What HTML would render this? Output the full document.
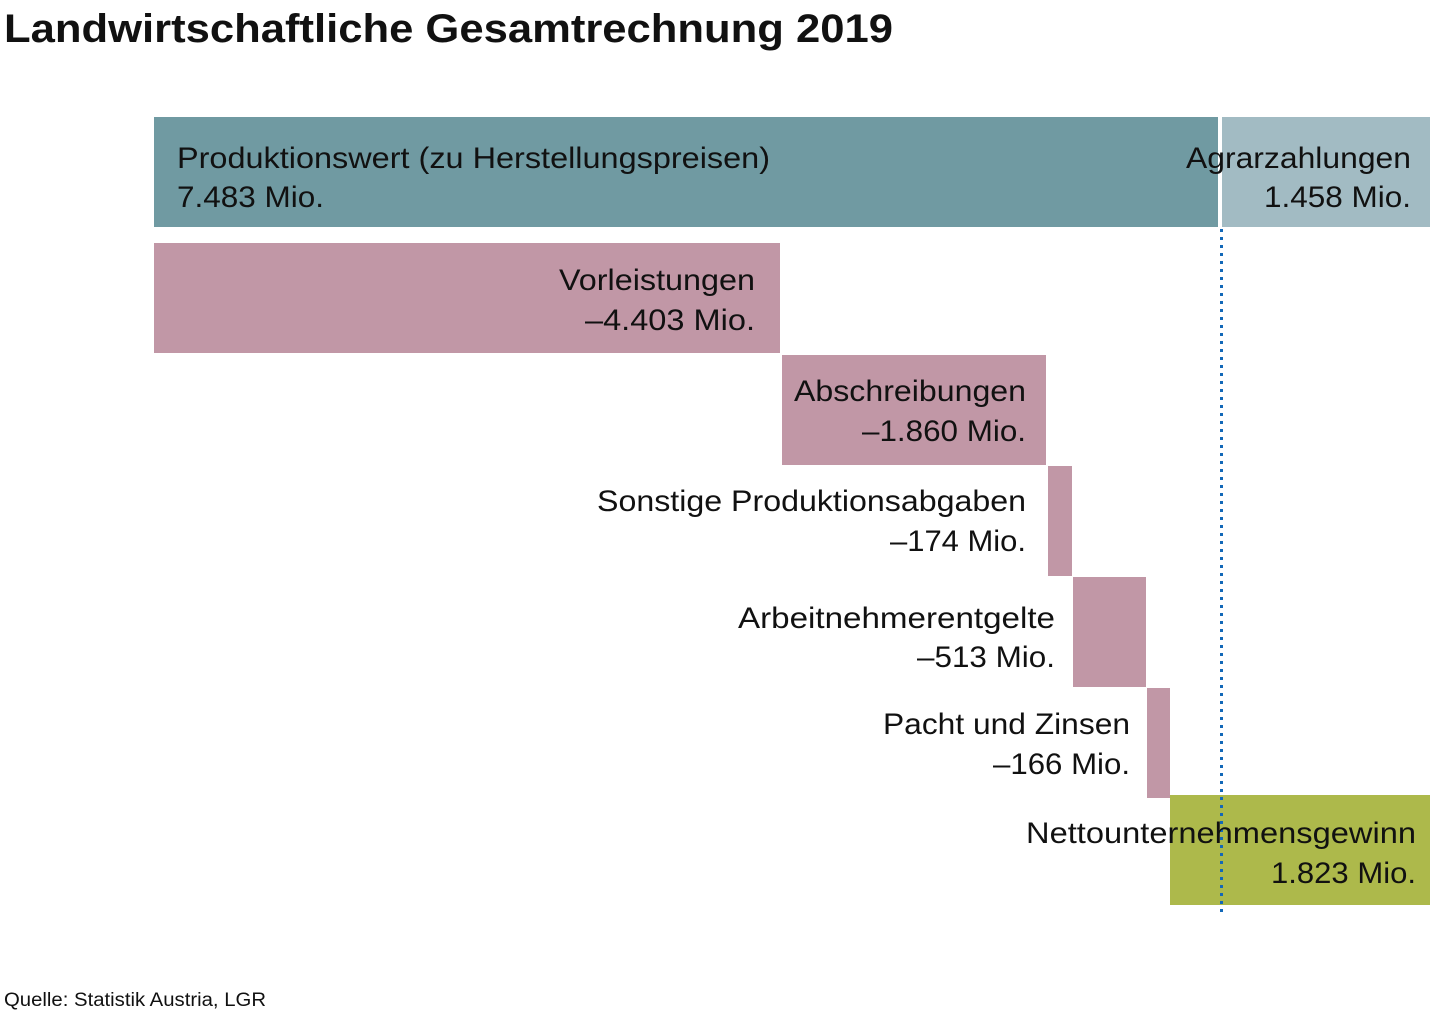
<!DOCTYPE html>
<html><head><meta charset="utf-8"><style>
html,body{margin:0;padding:0;background:#fff;width:1433px;height:1013px;overflow:hidden}
svg{display:block}
text{font-family:"Liberation Sans",sans-serif;fill:#111}
</style></head><body>
<svg width="1433" height="1013" viewBox="0 0 1433 1013" xmlns="http://www.w3.org/2000/svg">
<text x="4" y="42" font-size="40" font-weight="bold" textLength="889" lengthAdjust="spacingAndGlyphs">Landwirtschaftliche Gesamtrechnung 2019</text>

<rect x="154" y="117" width="1064" height="110" fill="#709aa2"/>
<rect x="1222" y="117" width="208" height="110" fill="#a2bbc3"/>
<rect x="154" y="243" width="626" height="110" fill="#c197a6"/>
<rect x="782" y="355" width="264" height="110" fill="#c197a6"/>
<rect x="1048" y="466" width="24" height="110" fill="#c197a6"/>
<rect x="1073" y="577" width="73" height="110" fill="#c197a6"/>
<rect x="1147" y="688" width="23" height="110" fill="#c197a6"/>
<rect x="1170" y="795" width="260" height="110" fill="#adb94b"/>

<line x1="1221.5" y1="229" x2="1221.5" y2="915" stroke="#1268b8" stroke-width="3" stroke-dasharray="3 5"/>

<g font-size="30">
<text x="177" y="168" textLength="593" lengthAdjust="spacingAndGlyphs">Produktionswert (zu Herstellungspreisen)</text>
<text x="177" y="207" textLength="147" lengthAdjust="spacingAndGlyphs">7.483 Mio.</text>
<text x="1411" y="168" text-anchor="end" textLength="225" lengthAdjust="spacingAndGlyphs">Agrarzahlungen</text>
<text x="1411" y="207" text-anchor="end" textLength="147" lengthAdjust="spacingAndGlyphs">1.458 Mio.</text>
<text x="755" y="290" text-anchor="end" textLength="196" lengthAdjust="spacingAndGlyphs">Vorleistungen</text>
<text x="755" y="330" text-anchor="end" textLength="170" lengthAdjust="spacingAndGlyphs">–4.403 Mio.</text>
<text x="1026" y="401" text-anchor="end" textLength="232" lengthAdjust="spacingAndGlyphs">Abschreibungen</text>
<text x="1026" y="441" text-anchor="end" textLength="164" lengthAdjust="spacingAndGlyphs">–1.860 Mio.</text>
<text x="1026" y="511" text-anchor="end" textLength="429" lengthAdjust="spacingAndGlyphs">Sonstige Produktionsabgaben</text>
<text x="1026" y="551" text-anchor="end" textLength="136" lengthAdjust="spacingAndGlyphs">–174 Mio.</text>
<text x="1055" y="628" text-anchor="end" textLength="317" lengthAdjust="spacingAndGlyphs">Arbeitnehmerentgelte</text>
<text x="1055" y="667" text-anchor="end" textLength="138" lengthAdjust="spacingAndGlyphs">–513 Mio.</text>
<text x="1130" y="734" text-anchor="end" textLength="247" lengthAdjust="spacingAndGlyphs">Pacht und Zinsen</text>
<text x="1130" y="774" text-anchor="end" textLength="137" lengthAdjust="spacingAndGlyphs">–166 Mio.</text>
<text x="1416" y="843" text-anchor="end" textLength="390" lengthAdjust="spacingAndGlyphs">Nettounternehmensgewinn</text>
<text x="1416" y="883" text-anchor="end" textLength="145" lengthAdjust="spacingAndGlyphs">1.823 Mio.</text>
</g>

<text x="4" y="1006" font-size="19" textLength="262" lengthAdjust="spacingAndGlyphs">Quelle: Statistik Austria, LGR</text>
</svg>
</body></html>
